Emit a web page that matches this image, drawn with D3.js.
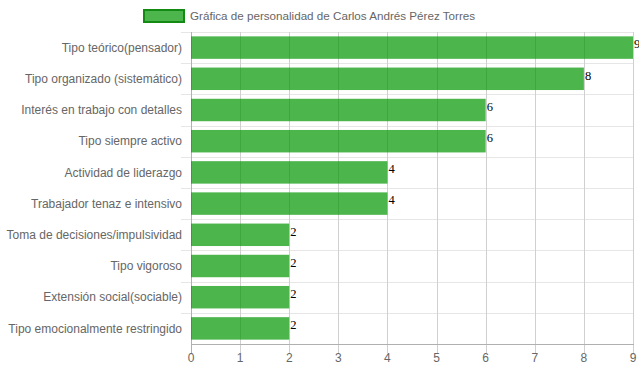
<!DOCTYPE html>
<html>
<head>
<meta charset="utf-8">
<script src="https://cdn.jsdelivr.net/npm/d3@7"></script>
<style>
  body { margin: 0; background: #fff; }
  text { font-family: "Liberation Sans", Arial, sans-serif; }
  text.val { font-family: "Liberation Serif", "Times New Roman", serif; }
</style>
</head>
<body>
<svg width="639" height="372"></svg>
<script>
/* Data */

var categories = [
  "Tipo teórico(pensador)",
  "Tipo organizado (sistemático)",
  "Interés en trabajo con detalles",
  "Tipo siempre activo",
  "Actividad de liderazgo",
  "Trabajador tenaz e intensivo",
  "Toma de decisiones/impulsividad",
  "Tipo vigoroso",
  "Extensión social(sociable)",
  "Tipo emocionalmente restringido"
];
var values = [9, 8, 6, 6, 4, 4, 2, 2, 2, 2];
var xTicks = [0, 1, 2, 3, 4, 5, 6, 7, 8, 9];
var legendLabel = "Gráfica de personalidad de Carlos Andrés Pérez Torres";

/* Setup */

var svg = d3.select("svg");
var plotL = 191, plotR = 633, plotT = 32, plotB = 344;

var x = d3.scaleLinear().domain([0, 9]).range([plotL, plotR]);
var y = d3.scaleBand().domain(categories).range([plotT, plotB]);
var barH = y.bandwidth() * 0.72;
var barY = (c) => y(c) + (y.bandwidth() - barH) / 2;

// horizontal grid lines (band edges)
svg.selectAll(".hgrid")
  .data(categories)
  .enter().append("line")
  .attr("x1", plotL - 10)
  .attr("x2", plotR)
  .attr("y1", (d) => Math.round(y(d)) + 0.5)
  .attr("y2", (d) => Math.round(y(d)) + 0.5)
  .attr("stroke", "#e6e6e6");

// vertical grid lines
svg.selectAll(".vgrid")
  .data(xTicks)
  .enter().append("line")
  .attr("x1", (d) => Math.round(x(d)) + 0.5)
  .attr("x2", (d) => Math.round(x(d)) + 0.5)
  .attr("y1", plotT)
  .attr("y2", plotB + 9)
  .attr("stroke", (d) => d === 0 ? "#b0b0b0" : "#d0d0d0");

// bottom axis line
svg.append("line")
  .attr("x1", plotL).attr("x2", plotR + 1)
  .attr("y1", plotB + 0.5).attr("y2", plotB + 0.5)
  .attr("stroke", "#b0b0b0");

// bars
svg.selectAll(".bar")
  .data(values)
  .enter().append("rect")
  .attr("x", x(0))
  .attr("y", (d, i) => barY(categories[i]))
  .attr("width", (d) => x(d) - x(0))
  .attr("height", barH)
  .attr("fill", "rgba(0,150,0,0.7)");

// value labels
svg.selectAll(".val")
  .data(values)
  .enter().append("text")
  .classed("val", true)
  .attr("x", (d) => x(d) + 1)
  .attr("y", (d, i) => barY(categories[i]) + 12)
  .attr("font-size", 12.5)
  .attr("fill", "#000")
  .text((d) => d);

// category labels
svg.selectAll(".cat")
  .data(categories)
  .enter().append("text")
  .attr("x", plotL - 9)
  .attr("y", (d) => y(d) + y.bandwidth() / 2)
  .attr("dy", "0.35em")
  .attr("text-anchor", "end")
  .attr("font-size", 12)
  .attr("fill", "#666")
  .text((d) => d);

// x tick labels
svg.selectAll(".tick")
  .data(xTicks)
  .enter().append("text")
  .attr("x", (d) => x(d))
  .attr("y", plotB + 18)
  .attr("text-anchor", "middle")
  .attr("font-size", 12)
  .attr("fill", "#666")
  .text((d) => d);

// legend
svg.append("rect")
  .attr("x", 144).attr("y", 10)
  .attr("width", 40).attr("height", 12)
  .attr("fill", "rgba(0,150,0,0.7)")
  .attr("stroke", "#138a13")
  .attr("stroke-width", 2);

svg.append("text")
  .attr("x", 190)
  .attr("y", 16)
  .attr("dy", "0.35em")
  .attr("font-size", 11.65)
  .attr("fill", "#666")
  .text(legendLabel);
</script>
</body>
</html>
